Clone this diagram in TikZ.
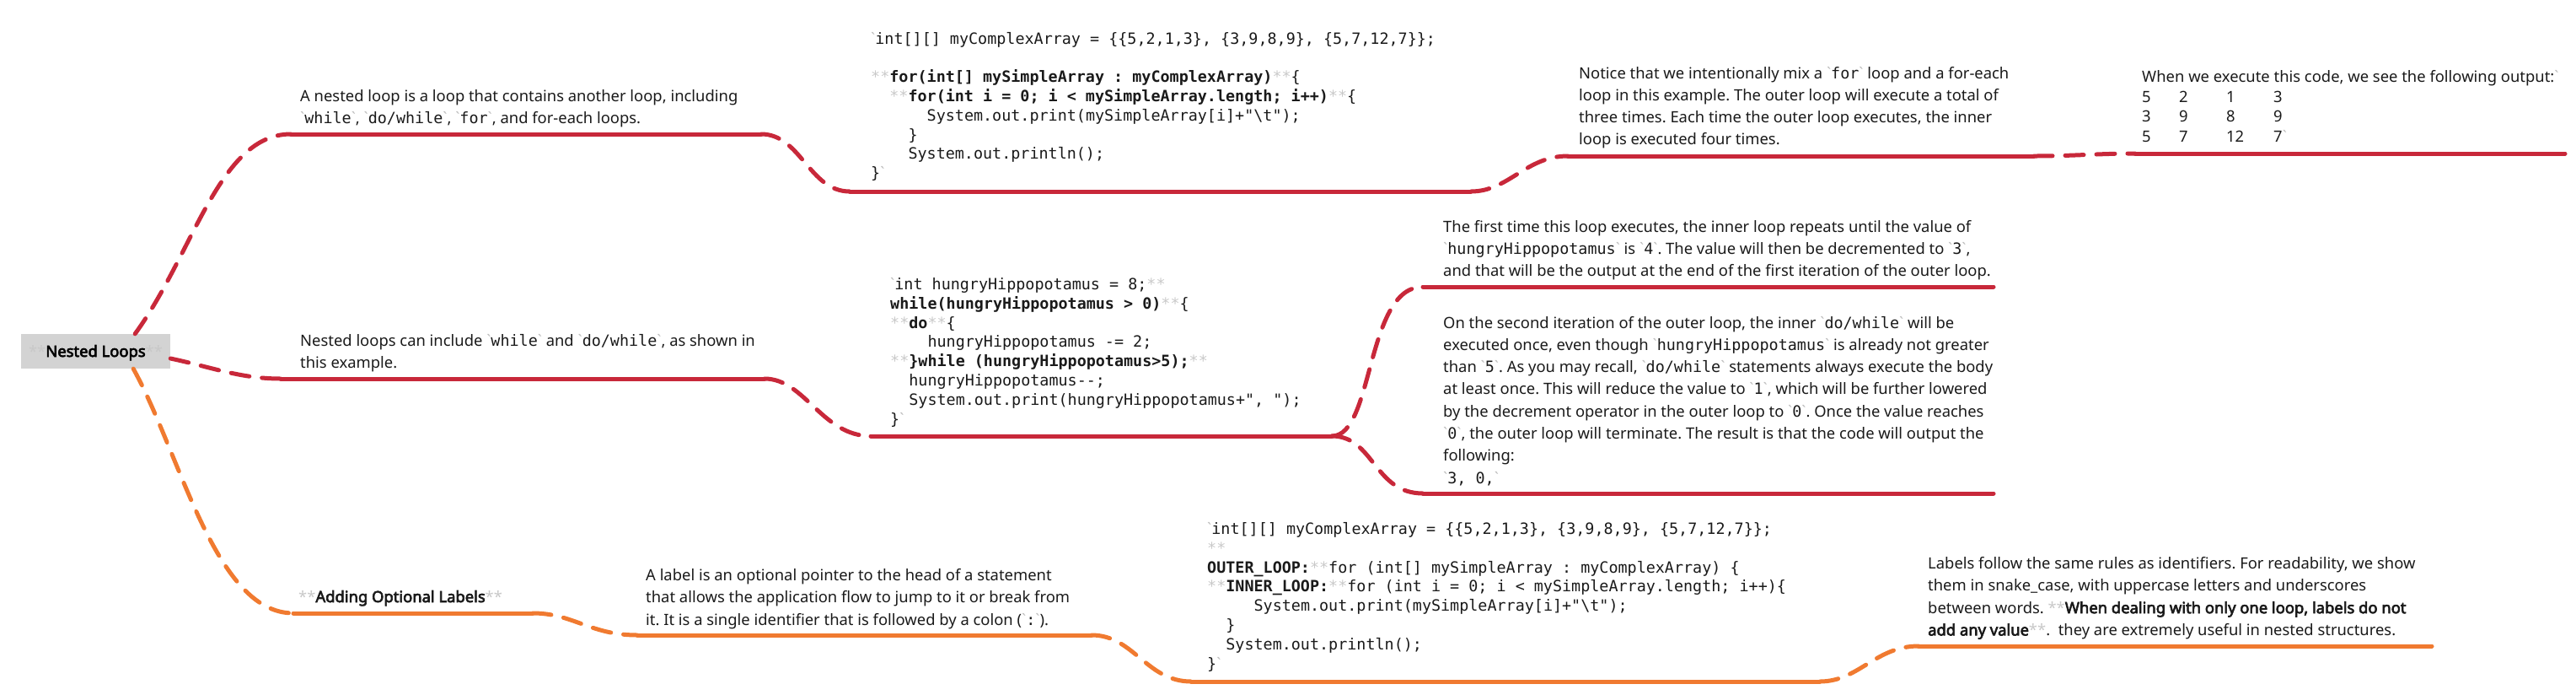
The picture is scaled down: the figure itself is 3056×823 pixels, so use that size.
\documentclass[tikz,border=0pt]{standalone}
\usepackage{fontspec}
\setmainfont{Noto Sans}[BoldFont={Noto Sans}, BoldFeatures={FakeBold=3.5}]
\setmonofont{DejaVu Sans Mono}
\usepackage{xcolor}
\definecolor{redc}{HTML}{C8283A}
\definecolor{orc}{HTML}{F07A30}
\definecolor{boxc}{HTML}{D3D3D3}
\definecolor{astc}{HTML}{C8C8C8}
\definecolor{tickc}{HTML}{C0C0C0}
\definecolor{textc}{HTML}{1A1A1A}
\newlength\mcw \setlength\mcw{11.08pt}
\newcommand\ind[1]{\hspace*{#1\mcw}}
\newcommand\as{\textcolor{astc}{**}}
\newcommand\tk{{\rmfamily\mdseries\textcolor{tickc}{\textasciigrave}}}
\newcommand\ic[1]{\tk\texttt{#1}\tk}
\newcommand\lines[1]{\begin{tabular}[t]{@{}l@{}}#1\end{tabular}}
\frenchspacing
\tikzset{
  txt/.style={anchor=base west, inner sep=0pt, text=textc, font=\fontsize{18.4}{26.3}\selectfont},
  codeblk/.style={anchor=base west, inner sep=0pt, text=textc, font=\ttfamily\fontsize{18.4}{22.8}\selectfont},
  outblk/.style={anchor=base west, inner sep=0pt, text=textc, font=\fontsize{18.4}{23.7}\selectfont},
  conn/.style={line width=5pt, line cap=round, dash pattern=on 22pt off 15pt},
  uline/.style={line width=5pt, line cap=round},
  rootbox/.style={fill=boxc, inner sep=0pt, minimum width=177pt, minimum height=41pt,
    text height=13pt, text depth=0pt, text=black, font=\bfseries\fontsize{18.4}{22}\selectfont}
}
\begin{document}
\begin{tikzpicture}[x=1pt,y=-1pt]
\useasboundingbox (0,0) rectangle (3056,823);

% underline end points
\coordinate (u1a) at (345,159);   \coordinate (u1b) at (903,159);
\coordinate (uc1a) at (1008,227); \coordinate (uc1b) at (1745,227);
\coordinate (u3a) at (1860,185);  \coordinate (u3b) at (2413,185);
\coordinate (uoa) at (2533,182);  \coordinate (uob) at (3043,182);
\coordinate (u2a) at (333,449);   \coordinate (u2b) at (907,449);
\coordinate (uc2a) at (1033,517); \coordinate (uc2b) at (1580,517);
\coordinate (u4a) at (1688,340);  \coordinate (u4b) at (2365,340);
\coordinate (u5a) at (1688,585);  \coordinate (u5b) at (2365,585);
\coordinate (uaa) at (348,727);   \coordinate (uab) at (632,727);
\coordinate (u6a) at (756,753);   \coordinate (u6b) at (1295,753);
\coordinate (uc3a) at (1413,808); \coordinate (uc3b) at (2159,808);
\coordinate (u7a) at (2276,766);  \coordinate (u7b) at (2885,766);

% root
\node[rootbox] (root) at (113.5,416.5) {\textcolor{astc}{\mdseries **}Nested Loops\textcolor{astc}{\mdseries **}};

% branch 1
\draw[conn,redc] ([xshift=-42pt]root.north east) .. controls (230,300) and (260,159) .. (u1a);
\draw[uline,redc] (u1a) -- (u1b);
\draw[conn,redc] (u1b) .. controls (950,159) and (960,227) .. (uc1a);
\draw[uline,redc] (uc1a) -- (uc1b);
\draw[conn,redc] (uc1b) .. controls (1790,227) and (1810,185) .. (u3a);
\draw[uline,redc] (u3a) -- (u3b);
\draw[conn,redc] (u3b) .. controls (2460,185) and (2490,182) .. (uoa);
\draw[uline,redc] (uoa) -- (uob);

% branch 2
\draw[conn,redc] ([yshift=-8.5pt]root.east) .. controls (250,435) and (285,449) .. (u2a);
\draw[uline,redc] (u2a) -- (u2b);
\draw[conn,redc] (u2b) .. controls (955,449) and (975,517) .. (uc2a);
\draw[uline,redc] (uc2a) -- (uc2b);
\draw[conn,redc] (uc2b) .. controls (1630,517) and (1620,340) .. (u4a);
\draw[uline,redc] (u4a) -- (u4b);
\draw[conn,redc] (uc2b) .. controls (1630,517) and (1630,585) .. (u5a);
\draw[uline,redc] (u5a) -- (u5b);

% branch 3
\draw[conn,orc] ([xshift=-44pt]root.south east) .. controls (215,540) and (255,727) .. (uaa);
\draw[uline,orc] (uaa) -- (uab);
\draw[conn,orc] (uab) .. controls (680,727) and (700,753) .. (u6a);
\draw[uline,orc] (u6a) -- (u6b);
\draw[conn,orc] (u6b) .. controls (1345,753) and (1360,808) .. (uc3a);
\draw[uline,orc] (uc3a) -- (uc3b);
\draw[conn,orc] (uc3b) .. controls (2205,808) and (2225,766) .. (u7a);
\draw[uline,orc] (u7a) -- (u7b);

% texts
\node[txt] (t1) at (356,120) {\lines{A nested loop is a loop that contains another loop, including\\
\ic{while}, \ic{do/while}, \ic{for}, and for-each loops.}};

\node[codeblk] (c1) at (1033,52) {\lines{\tk int[][] myComplexArray = \{\{5,2,1,3\}, \{3,9,8,9\}, \{5,7,12,7\}\};\\
\\
\as\textbf{for(int[] mySimpleArray : myComplexArray)}\as\{\\
\ind{2}\as\textbf{for(int i = 0; i < mySimpleArray.length; i++)}\as\{\\
\ind{6}System.out.print(mySimpleArray[i]+"\textbackslash t");\\
\ind{4}\}\\
\ind{4}System.out.println();\\
\}\tk}};

\node[txt] (t3) at (1873,93) {\lines{Notice that we intentionally mix a \ic{for} loop and a for-each\\
loop in this example. The outer loop will execute a total of\\
three times. Each time the outer loop executes, the inner\\
loop is executed four times.}};

\node[outblk] (out) at (2541,97.5) {\lines{When we execute this code, we see the following output:\tk\\
\makebox[44pt][l]{5}\makebox[56pt][l]{2}\makebox[56pt][l]{1}3\\
\makebox[44pt][l]{3}\makebox[56pt][l]{9}\makebox[56pt][l]{8}9\\
\makebox[44pt][l]{5}\makebox[56pt][l]{7}\makebox[56pt][l]{12}7\tk}};

\node[txt] (t2) at (356,410) {\lines{Nested loops can include \ic{while} and \ic{do/while}, as shown in\\
this example.}};

\node[codeblk] (c2) at (1056,343.5) {\lines{\tk int hungryHippopotamus = 8;\as\\
\textbf{while(hungryHippopotamus > 0)}\as\{\\
\as\textbf{do}\as\{\\
\ind{4}hungryHippopotamus -= 2;\\
\as\textbf{\}while (hungryHippopotamus>5);}\as\\
\ind{2}hungryHippopotamus-{}-;\\
\ind{2}System.out.print(hungryHippopotamus+", ");\\
\}\tk}};

\node[txt] (t4) at (1712,275) {\lines{The first time this loop executes, the inner loop repeats until the value of\\
\ic{hungryHippopotamus} is \ic{4}. The value will then be decremented to \ic{3},\\
and that will be the output at the end of the first iteration of the outer loop.}};

\node[txt] (t5) at (1712,389) {\lines{On the second iteration of the outer loop, the inner \ic{do/while} will be\\
executed once, even though \ic{hungryHippopotamus} is already not greater\\
than \ic{5}. As you may recall, \ic{do/while} statements always execute the body\\
at least once. This will reduce the value to \ic{1}, which will be further lowered\\
by the decrement operator in the outer loop to \ic{0}. Once the value reaches\\
\ic{0}, the outer loop will terminate. The result is that the code will output the\\
following:\\
\ic{3, 0,}}};

\node[txt] (add) at (354,714) {\as\textbf{Adding Optional Labels}\as};

\node[txt] (t6) at (766,688.5) {\lines{A label is an optional pointer to the head of a statement\\
that allows the application flow to jump to it or break from\\
it. It is a single identifier that is followed by a colon (\ic{:}).}};

\node[codeblk] (c3) at (1432,633.5) {\lines{\tk int[][] myComplexArray = \{\{5,2,1,3\}, \{3,9,8,9\}, \{5,7,12,7\}\};\\
\as\\
\textbf{OUTER\_LOOP:}\as{}for (int[] mySimpleArray : myComplexArray) \{\\
\as\textbf{INNER\_LOOP:}\as{}for (int i = 0; i < mySimpleArray.length; i++)\{\\
\ind{5}System.out.print(mySimpleArray[i]+"\textbackslash t");\\
\ind{2}\}\\
\ind{2}System.out.println();\\
\}\tk}};

\node[txt] (t7) at (2287,674.5) {\lines{Labels follow the same rules as identifiers. For readability, we show\\
them in snake\_case, with uppercase letters and underscores\\
between words. \as\textbf{When dealing with only one loop, labels do not}\\
\textbf{add any value}\as.\ \ they are extremely useful in nested structures.}};
\end{tikzpicture}
\end{document}
